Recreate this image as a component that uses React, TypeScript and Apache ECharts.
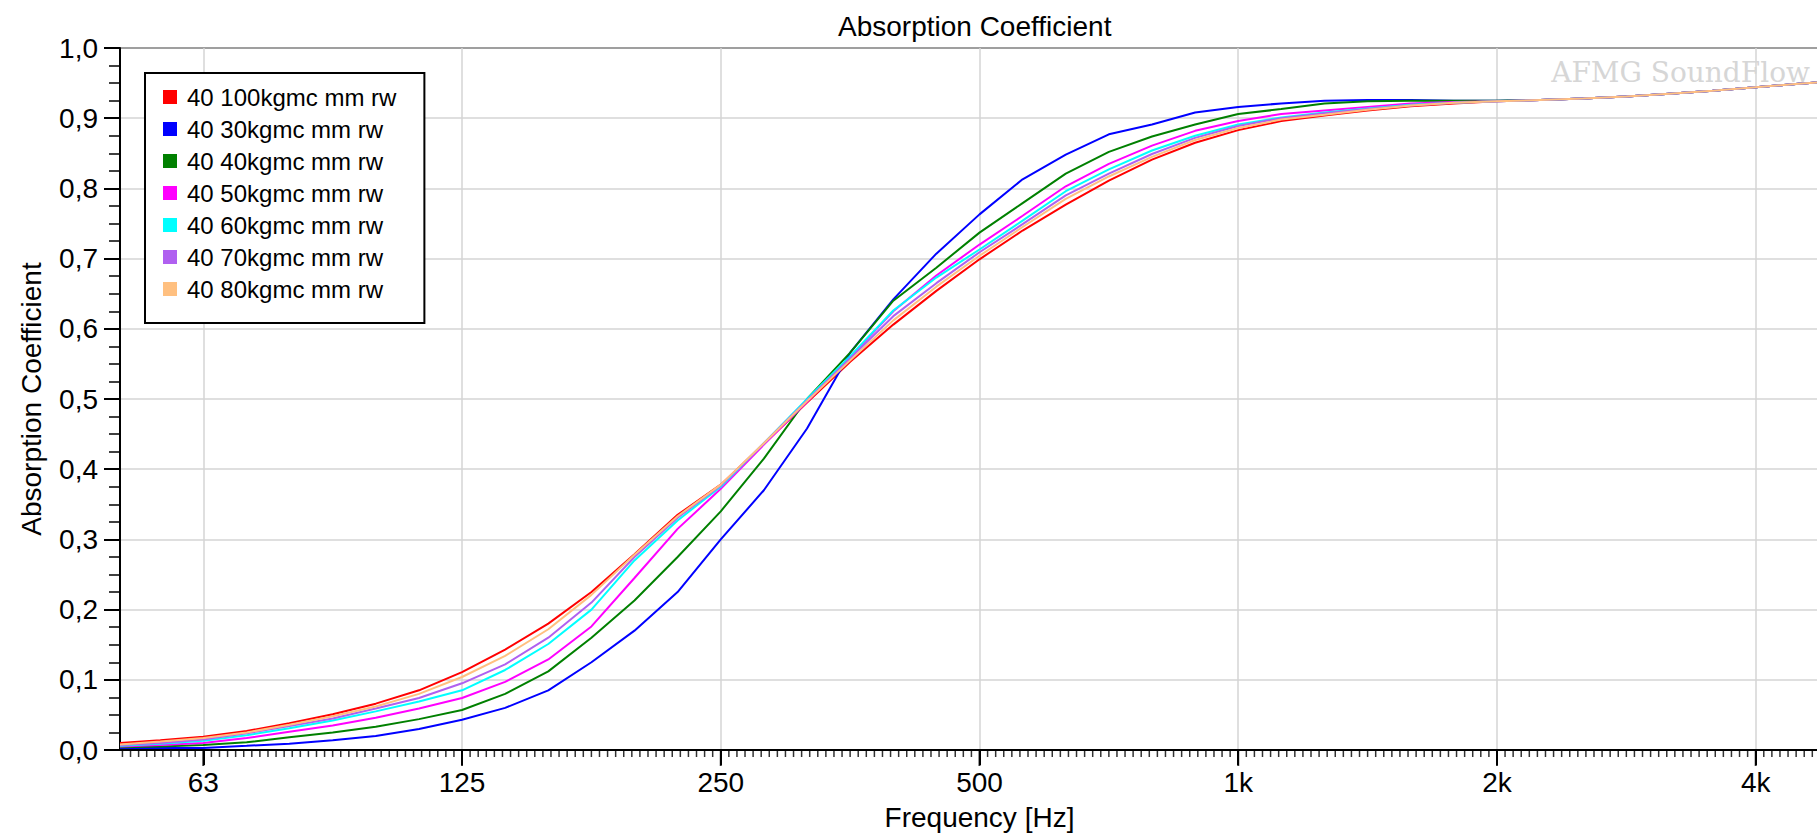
import React, { useEffect, useRef } from "react";
import * as echarts from "echarts";

// Frequencies (Hz) at which the curves were read
const freqHz = [50, 55.7, 62.5, 70.2, 78.7, 88.4, 99.2, 111.4, 125, 140.3, 157.5, 176.8, 198.4, 222.7, 250, 280.6, 315, 353.6, 396.9, 445.4, 500, 561.2, 630, 707.1, 793.7, 890.9, 1000, 1122, 1260, 1414, 1587, 1782, 2000, 2245, 2520, 2828, 3175, 3564, 4000, 4490, 5000];

const seriesNames = [
  "40 100kgmc mm rw",
  "40 30kgmc mm rw",
  "40 40kgmc mm rw",
  "40 50kgmc mm rw",
  "40 60kgmc mm rw",
  "40 70kgmc mm rw",
  "40 80kgmc mm rw",
];

const red100 = [.010, .014, .019, .027, .038, .051, .066, .085, .111, .143, .180, .225, .279, .335, .378, .436, .495, .553, .606, .654, .699, .740, .777, .811, .841, .865, .883, .896, .904, .911, .917, .921, .924, .926, .928, .931, .935, .939, .944, .949, .953];
const blue30 = [.003, .003, .003, .006, .009, .014, .020, .030, .043, .060, .085, .125, .170, .225, .300, .370, .458, .566, .642, .707, .763, .813, .848, .877, .891, .908, .916, .921, .925, .926, .926, .925, .925, .926, .928, .931, .935, .939, .944, .949, .953];
const green40 = [.004, .005, .007, .011, .018, .025, .033, .044, .057, .080, .112, .160, .213, .275, .340, .415, .500, .566, .640, .687, .737, .779, .821, .852, .874, .891, .906, .913, .921, .924, .925, .925, .925, .926, .928, .931, .935, .939, .944, .949, .953];
const magenta50 = [.005, .007, .010, .017, .026, .035, .046, .059, .074, .097, .129, .176, .245, .315, .372, .435, .496, .560, .625, .676, .720, .761, .803, .835, .861, .882, .896, .906, .911, .916, .921, .923, .924, .926, .928, .931, .935, .939, .944, .949, .953];
const cyan60 = [.006, .009, .013, .021, .031, .042, .055, .069, .085, .114, .151, .200, .270, .327, .375, .437, .500, .561, .626, .673, .713, .754, .796, .827, .854, .875, .891, .901, .908, .914, .919, .922, .924, .926, .928, .931, .935, .939, .944, .949, .953];
const purple70 = [.007, .010, .015, .024, .034, .045, .059, .074, .095, .122, .160, .210, .275, .331, .377, .437, .498, .558, .618, .665, .709, .749, .790, .821, .849, .872, .889, .900, .907, .913, .918, .922, .924, .926, .928, .931, .935, .939, .944, .949, .953];
const orange80 = [.008, .012, .017, .025, .036, .048, .062, .080, .104, .134, .172, .221, .278, .333, .378, .437, .497, .555, .612, .660, .704, .745, .785, .817, .845, .869, .886, .898, .905, .912, .918, .922, .924, .926, .928, .931, .935, .939, .944, .949, .953];

const seriesValues = [red100, blue30, green40, magenta50, cyan60, purple70, orange80];
const seriesColors = ["#ff0000", "#0000ff", "#008000", "#ff00ff", "#00ffff", "#b060f0", "#ffc080"];

const xTickFreqs = [62.5, 125, 250, 500, 1000, 2000, 4000];
const xTickLabels = ["63", "125", "250", "500", "1k", "2k", "4k"];
const freqMin = 50;
const freqMax = 5000;
const minorPerOctave = 32;

const FONT = '"Liberation Sans", Arial, sans-serif';
const toOct = (f: number) => Math.log2(f / 1000);

export default function App() {
  const ref = useRef<HTMLDivElement>(null);
  useEffect(() => {
    document.body.style.margin = "0";
    document.body.style.overflow = "hidden";
    const chart = echarts.init(ref.current!, null, { renderer: "svg" });
    const xMin = toOct(freqMin);
    const xMax = toOct(freqMax);
    const majorVals = xTickFreqs.map(toOct);
    const minorVals: number[] = [];
    for (let k = Math.ceil(xMin * minorPerOctave); k <= Math.floor(xMax * minorPerOctave); k++) {
      if (k % minorPerOctave !== 0) minorVals.push(k / minorPerOctave);
    }
    const labelFor = (v: number) => {
      const i = majorVals.findIndex((m) => Math.abs(m - v) < 1e-6);
      return i >= 0 ? xTickLabels[i] : "";
    };

    const curveSeries = seriesNames.map((name, i) => ({
      name,
      type: "line",
      showSymbol: false,
      symbol: "none",
      color: seriesColors[i],
      itemStyle: { color: seriesColors[i] },
      lineStyle: { color: seriesColors[i], width: 2 },
      z: 3,
      data: freqHz.map((f, j) => [toOct(f), seriesValues[i][j]]),
    }));

    // tick marks below the frequency axis, placed through the axis scale
    const tickSeries = [
      {
        name: "majorTicks",
        type: "scatter",
        silent: true,
        clip: false,
        symbol: "rect",
        symbolSize: [2, 15],
        symbolOffset: [0, 8.5],
        itemStyle: { color: "#000" },
        z: 5,
        data: majorVals.map((v) => [v, 0]),
      },
      {
        name: "minorTicks",
        type: "scatter",
        silent: true,
        clip: false,
        symbol: "rect",
        symbolSize: [1.5, 6],
        symbolOffset: [0, 4],
        itemStyle: { color: "#000" },
        z: 5,
        data: minorVals.map((v) => [v, 0]),
      },
    ];

    chart.setOption({
      animation: false,
      backgroundColor: "#ffffff",
      title: {
        text: "Absorption Coefficient",
        left: 838,
        top: 12,
        padding: 0,
        textStyle: { fontSize: 28, fontWeight: "normal", color: "#000", fontFamily: FONT },
      },
      legend: {
        orient: "vertical",
        left: 145,
        top: 73,
        padding: [12, 28, 22, 18],
        itemGap: 8,
        itemWidth: 14,
        itemHeight: 14,
        icon: "rect",
        borderColor: "#000",
        borderWidth: 2,
        backgroundColor: "#fff",
        z: 10,
        textStyle: { fontSize: 24, lineHeight: 24, color: "#000", fontFamily: FONT, padding: [0, 0, 0, 5] },
        data: seriesNames,
      },
      grid: {
        left: 120,
        top: 48,
        right: 31,
        bottom: 85,
        show: true,
        borderColor: "#000",
        borderWidth: 2,
        backgroundColor: "transparent",
        containLabel: false,
        outerBoundsMode: "none",
      },
      graphic: [
        {
          type: "text",
          x: 1810,
          y: 58,
          z: 1,
          style: {
            text: "AFMG SoundFlow",
            fill: "#d6d6d6",
            font: '28px "DejaVu Serif", serif',
            align: "right",
            verticalAlign: "top",
          },
        },
      ],
      xAxis: {
        type: "value",
        position: "bottom",
        min: xMin,
        max: xMax,
        name: "Frequency [Hz]",
        nameLocation: "middle",
        nameGap: 53,
        nameTextStyle: { fontSize: 28, color: "#000", fontFamily: FONT },
        axisLine: { show: true, onZero: false, lineStyle: { color: "#000", width: 2 } },
        axisTick: { show: true, length: 15, customValues: majorVals, lineStyle: { color: "#000", width: 2 } },
        axisLabel: {
          customValues: majorVals,
          margin: 18,
          fontSize: 28,
          color: "#000",
          fontFamily: FONT,
          formatter: (v: number) => labelFor(v),
        },
        splitLine: { show: true, lineStyle: { color: "#d4d4d4", width: 1.5 } },
      },
      yAxis: {
        type: "value",
        min: 0,
        max: 1,
        interval: 0.1,
        name: "Absorption Coefficient",
        nameLocation: "middle",
        nameGap: 75,
        nameTextStyle: { fontSize: 28, color: "#000", fontFamily: FONT },
        axisLine: { show: true, onZero: false, lineStyle: { color: "#000", width: 2 } },
        axisTick: { show: true, length: 16, lineStyle: { color: "#000", width: 2 } },
        minorTick: { show: true, splitNumber: 4, length: 11, lineStyle: { color: "#000", width: 1.5 } },
        axisLabel: {
          margin: 22,
          fontSize: 28,
          color: "#000",
          fontFamily: FONT,
          formatter: (v: number) => v.toFixed(1).replace(".", ","),
        },
        splitLine: { show: true, lineStyle: { color: "#d4d4d4", width: 1.5 } },
      },
      series: [...curveSeries, ...tickSeries],
    });
    return () => chart.dispose();
  }, []);
  return (
    <div style={{ width: 1817, height: 835, overflow: "hidden", position: "relative" }}>
      <div ref={ref} style={{ width: 1870, height: 835 }} />
    </div>
  );
}
